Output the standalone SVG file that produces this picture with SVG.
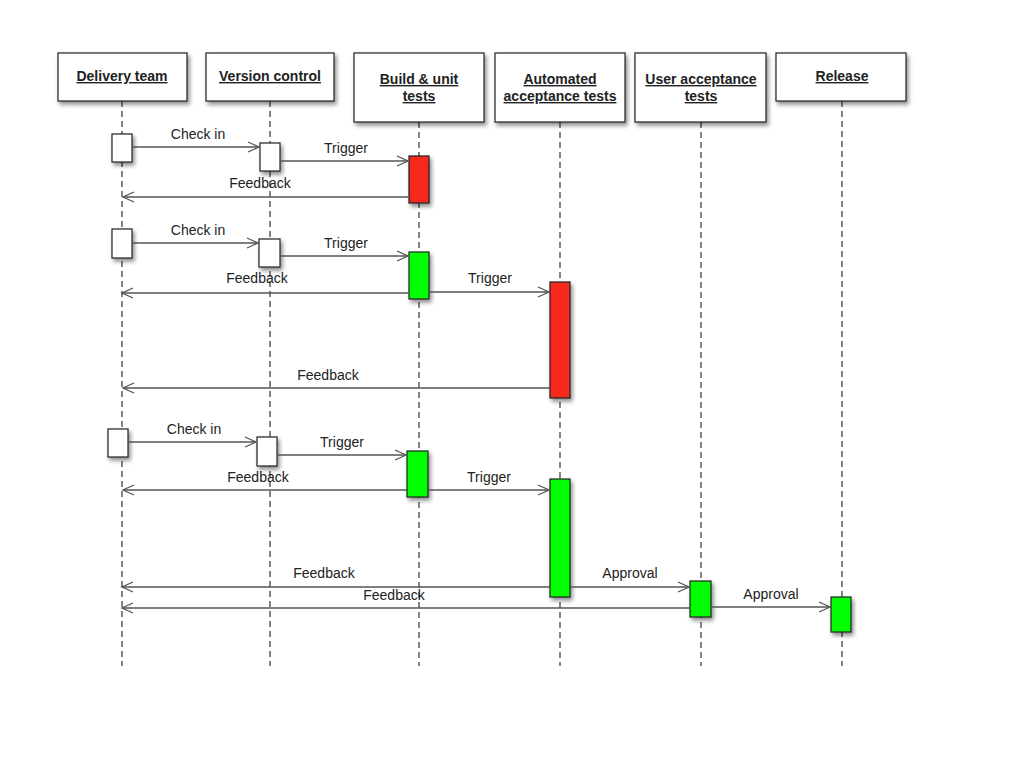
<svg xmlns="http://www.w3.org/2000/svg" width="1024" height="768" viewBox="0 0 1024 768">
<style>
.hdr{fill:#fff;stroke:#222;stroke-width:1.2;filter:url(#sh)}
.ht{font-family:"Liberation Sans",Arial,sans-serif;font-size:14px;font-weight:bold;text-anchor:middle;text-decoration:underline;fill:#222}
.life{stroke:#333;stroke-width:1.2;stroke-dasharray:6 4;fill:none}
.act{stroke:#222;stroke-width:1.2;filter:url(#sh)}
.w{fill:#fff}.r{fill:#f52a1e}.g{fill:#0f0}
.msg{stroke:#555;stroke-width:1.5;fill:none;marker-end:url(#ah)}
.lbl{font-family:"Liberation Sans",Arial,sans-serif;font-size:14px;text-anchor:middle;fill:#222}
</style>
<defs>
<filter id="sh" x="-30%" y="-30%" width="160%" height="160%">
<feDropShadow dx="2" dy="3" stdDeviation="2" flood-color="#000" flood-opacity="0.45"/>
</filter>
<marker id="ah" markerWidth="14" markerHeight="12" refX="12" refY="6" orient="auto" markerUnits="userSpaceOnUse">
<path d="M1,1 L12,6 L1,11" fill="none" stroke="#555" stroke-width="1.3"/>
</marker>
</defs>
<rect width="1024" height="768" fill="#fff"/>
<g id="lifelines">
<line class="life" x1="122" y1="101" x2="122" y2="666"/>
<line class="life" x1="270" y1="101" x2="270" y2="666"/>
<line class="life" x1="419" y1="122" x2="419" y2="666"/>
<line class="life" x1="560" y1="122" x2="560" y2="666"/>
<line class="life" x1="701" y1="122" x2="701" y2="666"/>
<line class="life" x1="842" y1="101" x2="842" y2="666"/>
</g>
<g id="delivery-team"><rect class="hdr" x="58" y="53" width="129" height="48"/><text class="ht" x="122" y="81">Delivery team</text></g>
<g id="version-control"><rect class="hdr" x="206" y="53" width="128" height="48"/><text class="ht" x="270" y="81">Version control</text></g>
<g id="build-unit-tests"><rect class="hdr" x="354" y="53" width="130" height="69"/><text class="ht" x="419" y="84">Build &amp; unit</text><text class="ht" x="419" y="101">tests</text></g>
<g id="automated-acceptance-tests"><rect class="hdr" x="495" y="53" width="130" height="69"/><text class="ht" x="560" y="84">Automated</text><text class="ht" x="560" y="101">acceptance tests</text></g>
<g id="user-acceptance-tests"><rect class="hdr" x="635" y="53" width="131" height="69"/><text class="ht" x="701" y="84">User acceptance</text><text class="ht" x="701" y="101">tests</text></g>
<g id="release"><rect class="hdr" x="776" y="53" width="130" height="48"/><text class="ht" x="842" y="81">Release</text></g>
<g id="activations">
<rect class="act w" x="112" y="134" width="20" height="28"/>
<rect class="act w" x="260" y="143" width="20" height="28"/>
<rect class="act r" x="409" y="156" width="20" height="47"/>
<rect class="act w" x="112" y="229" width="20" height="29"/>
<rect class="act w" x="259" y="239" width="21" height="28"/>
<rect class="act g" x="409" y="252" width="20" height="47"/>
<rect class="act r" x="550" y="282" width="20" height="116"/>
<rect class="act w" x="108" y="429" width="20" height="28"/>
<rect class="act w" x="257" y="437" width="20" height="29"/>
<rect class="act g" x="407" y="451" width="21" height="46"/>
<rect class="act g" x="550" y="479" width="20" height="118"/>
<rect class="act g" x="690" y="581" width="21" height="36"/>
<rect class="act g" x="831" y="597" width="20" height="35"/>
</g>
<g id="connectors">
<line class="msg" x1="132" y1="147" x2="259" y2="147"/>
<line class="msg" x1="280" y1="161" x2="408" y2="161"/>
<line class="msg" x1="409" y1="197" x2="123" y2="197"/>
<line class="msg" x1="132" y1="243" x2="258" y2="243"/>
<line class="msg" x1="280" y1="256" x2="408" y2="256"/>
<line class="msg" x1="409" y1="293" x2="122" y2="293"/>
<line class="msg" x1="429" y1="292" x2="549" y2="292"/>
<line class="msg" x1="550" y1="388" x2="123" y2="388"/>
<line class="msg" x1="128" y1="442" x2="256" y2="442"/>
<line class="msg" x1="277" y1="455" x2="406" y2="455"/>
<line class="msg" x1="407" y1="490" x2="123" y2="490"/>
<line class="msg" x1="428" y1="490" x2="549" y2="490"/>
<line class="msg" x1="550" y1="587" x2="122" y2="587"/>
<line class="msg" x1="570" y1="587" x2="689" y2="587"/>
<line class="msg" x1="690" y1="608" x2="122" y2="608"/>
<line class="msg" x1="711" y1="607" x2="830" y2="607"/>
</g>
<g id="labels">
<text class="lbl" x="198" y="139">Check in</text>
<text class="lbl" x="346" y="153">Trigger</text>
<text class="lbl" x="260" y="188">Feedback</text>
<text class="lbl" x="198" y="235">Check in</text>
<text class="lbl" x="346" y="248">Trigger</text>
<text class="lbl" x="257" y="283">Feedback</text>
<text class="lbl" x="490" y="283">Trigger</text>
<text class="lbl" x="328" y="380">Feedback</text>
<text class="lbl" x="194" y="434">Check in</text>
<text class="lbl" x="342" y="447">Trigger</text>
<text class="lbl" x="258" y="482">Feedback</text>
<text class="lbl" x="489" y="482">Trigger</text>
<text class="lbl" x="324" y="578">Feedback</text>
<text class="lbl" x="630" y="578">Approval</text>
<text class="lbl" x="394" y="600">Feedback</text>
<text class="lbl" x="771" y="599">Approval</text>
</g>
</svg>
